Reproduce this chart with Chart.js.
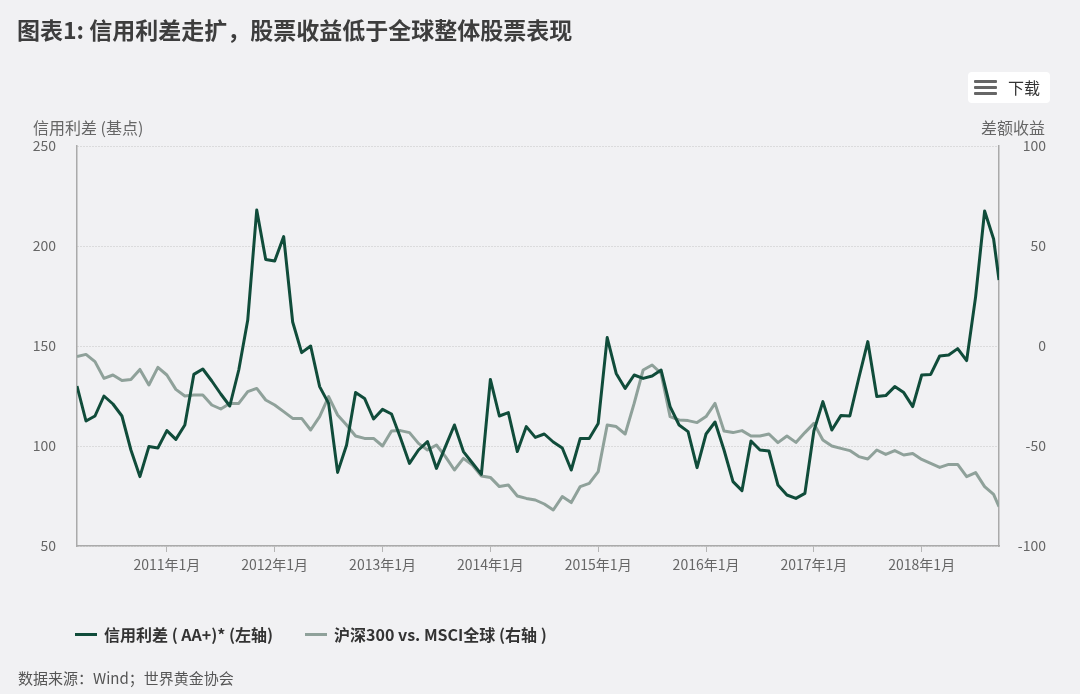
<!DOCTYPE html>
<html>
<head>
<meta charset="utf-8">
<script src="https://cdn.jsdelivr.net/npm/chart.js@4"></script>
<style>
  html, body { margin: 0; padding: 0; background: #f1f1f3; }
  #wrap { position: relative; width: 1080px; height: 694px; overflow: hidden;
          font-family: 'Noto Sans CJK SC', 'Noto Sans', sans-serif; }
  #chart { position: absolute; left: 0; top: 0; }
  .title { position: absolute; left: 17px; top: 13px; font-size: 23px; line-height: 32px;
           font-weight: bold; color: #3d3d3d; white-space: nowrap; }
  .dl { position: absolute; left: 968px; top: 72px; width: 82px; height: 31px;
        background: #fff; border-radius: 4px; }
  .dl i { position: absolute; left: 6px; width: 23px; height: 3px; background: #666; border-radius: 1px; }
  .dl span { position: absolute; left: 40px; top: 0; line-height: 31px; font-size: 16px; color: #333; }
  .axis-title { position: absolute; top: 115px; font-size: 16px; line-height: 24px; color: #666; white-space: nowrap; }
  .legend { position: absolute; top: 621px; left: 75px; font-size: 16px; line-height: 26px;
            font-weight: bold; color: #333; white-space: nowrap; }
  .legend .item { position: absolute; top: 0; }
  .legend .sw { position: absolute; top: 12px; width: 22px; height: 3px; }
  .legend .txt { position: absolute; left: 29px; top: 0; }
  .source { position: absolute; left: 18px; top: 665px; font-size: 15px; line-height: 26px; color: #555; white-space: nowrap; }
</style>
</head>
<body>
<div id="wrap">
  <canvas id="chart" width="1080" height="694"></canvas>
  <div class="title">图表1: 信用利差走扩，股票收益低于全球整体股票表现</div>
  <div class="dl"><i style="top:8px"></i><i style="top:14px"></i><i style="top:20px"></i><span>下载</span></div>
  <div class="axis-title" style="left:33px">信用利差 (基点)</div>
  <div class="axis-title" style="right:35px">差额收益</div>
  <div class="legend">
    <div class="item" style="left:0"><div class="sw" style="background:#104c3a"></div><div class="txt">信用利差 ( AA+)* (左轴)</div></div>
    <div class="item" style="left:230px"><div class="sw" style="background:#8fa19a"></div><div class="txt">沪深300 vs. MSCI全球 (右轴 )</div></div>
  </div>
  <div class="source">数据来源：Wind；世界黄金协会</div>
</div>
<script>
// --- data: month-end readings from Feb 2010, last one is a mid-September 2018 reading ---
const firstMonth = '2010-02';
const lastReading = '2018-09-18';

// 信用利差 (AA+), basis points, left axis
const creditSpread = [
    130, 112.5, 115, 125, 121, 115, 98, 84.7, 99.7, 99,
    107.7, 103.3, 110.5, 135.8, 138.5, 132.5, 126, 120, 138, 163,
    218, 193.3, 192.5, 204.7, 162, 146.7, 150, 129.7, 121.3, 86.8,
    100.5, 126.8, 123.8, 113.5, 118.3, 116, 104, 91.3, 98, 102.2,
    88.8, 99.7, 110.5, 97.2, 91.5, 85.8, 133.3, 115, 116.7, 97.2,
    109.7, 104.3, 106, 102, 99, 88, 103.8, 103.8, 111.3, 154.2,
    136.3, 128.8, 135.5, 133.8, 135, 138, 119.7, 110.5, 107.2, 89.2,
    106, 112, 98, 82.2, 77.7, 102.5, 98, 97.5, 80.5, 75.5,
    73.8, 76.3, 107.5, 122.2, 108, 115.2, 115, 134, 152.2, 124.7,
    125.2, 129.7, 126.7, 119.7, 135.5, 135.8, 145, 145.5, 148.7, 142.7,
    174.7, 217.5, 203.5, 183
];

// 沪深300 vs. MSCI全球, relative return, right axis
const csiVsMsci = [
    -5.3, -4.2, -7.8, -16.2, -14.5, -17.3, -16.7, -11.7, -19.5, -10.7,
    -14.5, -21.7, -25, -24.5, -24.5, -29.5, -31.5, -28.7, -28.7, -22.8,
    -21.2, -27, -29.5, -32.8, -36.2, -36.2, -42, -35.3, -25.3, -34.5,
    -39.5, -45, -46.2, -46.2, -50, -42.5, -42.3, -43.3, -48.7, -52,
    -49.5, -55.3, -62, -56.2, -59.5, -65, -65.7, -70.3, -69.5, -75,
    -76.2, -77, -79, -82, -75.3, -78.3, -70.3, -68.7, -62.8, -39.5,
    -40.3, -44, -28.7, -12, -9.5, -13.7, -35.3, -37, -37.3, -38.3,
    -35.3, -28.7, -42.5, -43.3, -42.3, -45, -45, -44, -48.3, -45,
    -48.2, -43.3, -38.7, -47, -50, -51.2, -52.3, -55.3, -56.5, -52,
    -54.2, -52.3, -54.5, -53.7, -56.7, -58.7, -60.7, -59.2, -59.2, -65.3,
    -63.3, -70.3, -74.2, -80.3
];

const xTickLabels = ['2011年1月', '2012年1月', '2013年1月', '2014年1月', '2015年1月', '2016年1月', '2017年1月', '2018年1月'];
const leftTicks = [50, 100, 150, 200, 250];
const rightTicks = [-100, -50, 0, 50, 100];

// months since 1 Jan 2010
function monthPos(str) {
    const [y, m, d] = str.split('-').map(Number);
    const base = (y - 2010) * 12 + (m - 1);
    if (!d) return base + 1; // month-end reading
    return base + d / new Date(y, m, 0).getDate();
}

const xs = creditSpread.map((_, i) => i === creditSpread.length - 1 ? monthPos(lastReading) : monthPos(firstMonth) + i);
const tickPos = xTickLabels.map(l => (parseInt(l) - 2010) * 12);

const FONT = "'Noto Sans CJK SC', 'Noto Sans', sans-serif";

new Chart(document.getElementById('chart'), {
    type: 'line',
    data: {
        datasets: [{
            label: '信用利差 ( AA+)* (左轴)',
            data: creditSpread.map((v, i) => ({ x: xs[i], y: v })),
            borderColor: '#104c3a',
            borderWidth: 3,
            yAxisID: 'yL'
        }, {
            label: '沪深300 vs. MSCI全球 (右轴 )',
            data: csiVsMsci.map((v, i) => ({ x: xs[i], y: v })),
            borderColor: '#8fa19a',
            borderWidth: 3,
            yAxisID: 'yR'
        }]
    },
    options: {
        responsive: false,
        animation: false,
        devicePixelRatio: 1,
        layout: { padding: { top: 146, right: 34, bottom: 0, left: 0 } },
        elements: { point: { radius: 0 }, line: { tension: 0, borderJoinStyle: 'round' } },
        plugins: { legend: { display: false }, tooltip: { enabled: false } },
        scales: {
            x: {
                type: 'linear',
                min: xs[0], max: xs[xs.length - 1],
                bounds: 'data',
                afterBuildTicks: s => { s.ticks = tickPos.map(v => ({ value: v })); },
                afterFit: s => { s.height = 148; },
                ticks: {
                    callback: (v, i) => xTickLabels[i],
                    color: '#666', padding: 4, maxRotation: 0,
                    font: { family: FONT, size: 14 }
                },
                grid: { drawOnChartArea: false, drawTicks: true, tickLength: 6, color: '#b5b5b5' },
                border: { display: true, color: '#aaaaaa', width: 1.5 }
            },
            yL: {
                position: 'left',
                min: leftTicks[0], max: leftTicks[leftTicks.length - 1],
                afterBuildTicks: s => { s.ticks = leftTicks.map(v => ({ value: v })); },
                afterFit: s => { s.width = 77; },
                ticks: { color: '#666', padding: 21, font: { family: FONT, size: 14 } },
                grid: { drawTicks: false, color: '#c4c4c4', lineWidth: 1 },
                border: { display: true, color: '#aaaaaa', width: 1.5, dash: [1, 2] }
            },
            yR: {
                position: 'right',
                min: rightTicks[0], max: rightTicks[rightTicks.length - 1],
                afterBuildTicks: s => { s.ticks = rightTicks.map(v => ({ value: v })); },
                afterFit: s => { s.width = 47; },
                ticks: { color: '#666', crossAlign: 'far', font: { family: FONT, size: 14 } },
                grid: { display: false, drawTicks: false },
                border: { display: true, color: '#aaaaaa', width: 1.5 }
            }
        }
    }
});
</script>
</body>
</html>
